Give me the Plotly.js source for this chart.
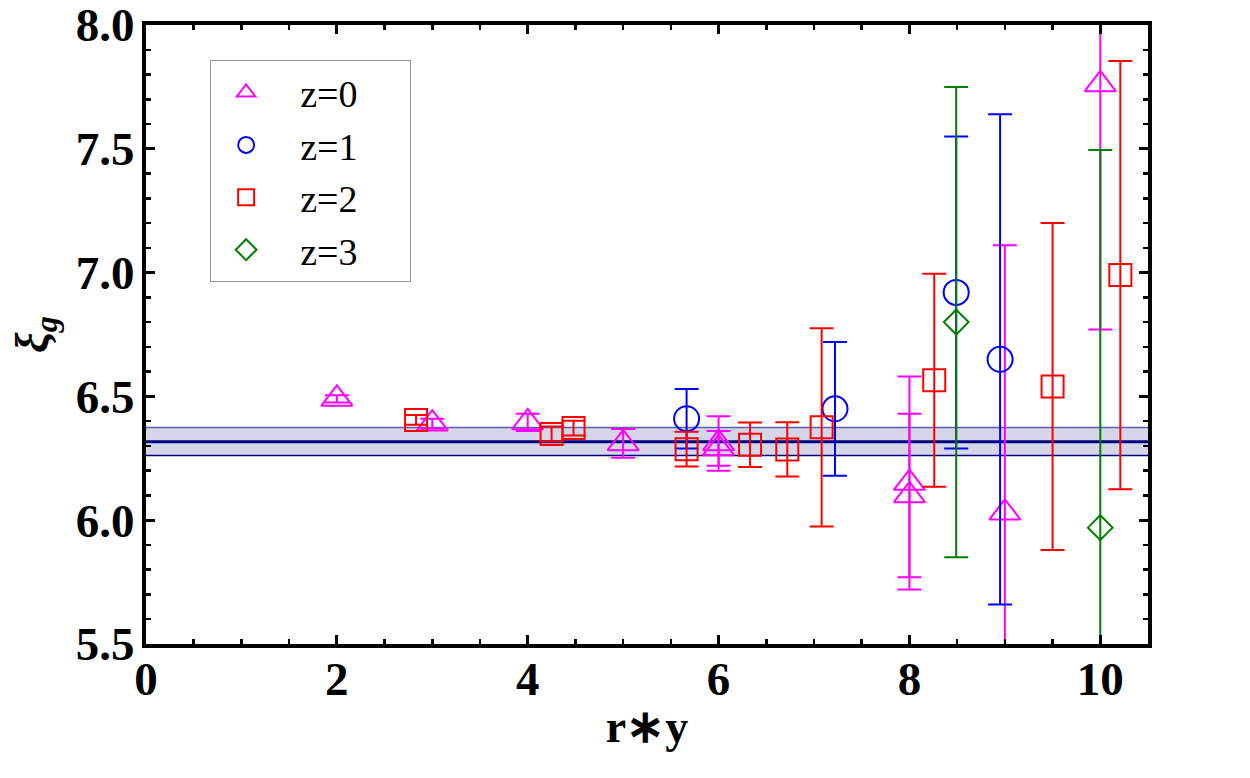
<!DOCTYPE html>
<html>
<head>
<meta charset="utf-8">
<script src="https://cdn.plot.ly/plotly-3.0.1.min.js"></script>
<style>
  html, body { margin: 0; padding: 0; background: #ffffff; }
  #chart { width: 1250px; height: 778px; }
</style>
</head>
<body>
<div id="chart"></div>
<script>
// z = 0 series
const z0X   = [2, 3, 4, 5, 6, 6, 8, 8, 9, 10];
const z0Y   = [6.49, 6.39, 6.395, 6.31, 6.31, 6.29, 6.15, 6.10, 6.03, 7.76];
const z0Err = [0.015, 0.02, 0.035, 0.058, 0.11, 0.07, 0.43, 0.33, 1.08, 0.99];

// z = 1 series
const z1X   = [5.665, 7.22, 8.49, 8.95];
const z1Y   = [6.41, 6.45, 6.92, 6.65];
const z1Err = [0.12, 0.27, 0.63, 0.99];

// z = 2 series
const z2X   = [2.83, 4.25, 4.48, 5.665, 6.33, 6.72, 7.08, 8.26, 9.50, 10.21];
const z2Y   = [6.405, 6.348, 6.372, 6.287, 6.305, 6.286, 6.375, 6.565, 6.54, 6.99];
const z2Err = [0.02, 0.03, 0.03, 0.07, 0.09, 0.11, 0.40, 0.43, 0.66, 0.865];

// z = 3 series
const z3X   = [8.49, 10];
const z3Y   = [6.80, 5.97];
const z3Err = [0.95, 1.525];

// fitted constant and its uncertainty band
const fitMid = 6.317;
const fitLo  = 6.261;
const fitHi  = 6.374;

const xRange = [0, 10.5];
const yRange = [5.5, 8.0];

const navy = '#000080';
const serif = '"Liberation Serif", "Times New Roman", serif';
// non-breaking spaces give the legend labels the wide layout of the key box
const padL = '\u00A0\u00A0';
const padR = '\u00A0\u00A0\u00A0\u00A0\u00A0';

function series(name, xs, ys, errs, color, symbol, size, group) {
  return {
    type: 'scatter', mode: 'markers', name: padL + name + padR,
    x: xs, y: ys, legendgroup: group,
    marker: { symbol: symbol, size: size, color: color, line: { color: color, width: 2 } },
    error_y: { type: 'data', array: errs, visible: true, color: color, thickness: 2, width: 12 },
    cliponaxis: true
  };
}

const traces = [
  // band
  { type: 'scatter', mode: 'lines', x: xRange, y: [fitLo, fitLo], showlegend: false, hoverinfo: 'skip',
    line: { color: navy, width: 1.5 } },
  { type: 'scatter', mode: 'lines', x: xRange, y: [fitHi, fitHi], showlegend: false, hoverinfo: 'skip',
    fill: 'tonexty', fillcolor: 'rgba(0,0,128,0.16)', line: { color: 'rgba(0,0,128,0.6)', width: 1.5 } },
  { type: 'scatter', mode: 'lines', x: xRange, y: [fitMid, fitMid], showlegend: false, hoverinfo: 'skip',
    line: { color: navy, width: 3 } },
  series('z=0', z0X, z0Y, z0Err, '#ff00ff', 'triangle-up-open', 27, 'g0'),
  series('z=1', z1X, z1Y, z1Err, '#0000ff', 'circle-open', 25, 'g1'),
  series('z=2', z2X, z2Y, z2Err, '#ff0000', 'square-open', 22, 'g2'),
  series('z=3', z3X, z3Y, z3Err, '#008000', 'diamond-open', 19, 'g3')
];

const axisCommon = {
  showline: true, linecolor: '#000', linewidth: 4, mirror: 'ticks',
  ticks: 'inside', ticklen: 9, tickwidth: 3, tickcolor: '#000',
  showgrid: false, zeroline: false,
  ticklabeloverflow: 'allow',
  tickfont: { family: serif, size: 47, color: '#000', weight: 'bold' }
};

const layout = {
  width: 1250, height: 778,
  margin: { l: 146, r: 102, t: 25, b: 134 },
  paper_bgcolor: '#fff', plot_bgcolor: '#fff',
  font: { family: serif, color: '#000' },
  showlegend: true,
  legend: {
    x: 0.064, y: 0.943, xanchor: 'left', yanchor: 'top',
    bgcolor: '#fff', bordercolor: '#999', borderwidth: 1,
    font: { family: serif, size: 38, color: '#000' },
    itemwidth: 60, traceorder: 'normal'
  },
  xaxis: Object.assign({}, axisCommon, {
    range: xRange, dtick: 2, tick0: 0,
    minor: { dtick: 0.5, ticks: 'inside', ticklen: 5, tickwidth: 2.5, tickcolor: '#000', showgrid: false },
    ticklabelstandoff: -9,
    title: { text: '<b>r∗y</b>', font: { family: serif, size: 46, color: '#000' }, standoff: 6 }
  }),
  yaxis: Object.assign({}, axisCommon, {
    range: yRange, dtick: 0.5, tick0: 5.5, tickformat: '.1f',
    minor: { dtick: 0.1, ticks: 'inside', ticklen: 5, tickwidth: 2.5, tickcolor: '#000', showgrid: false },
    ticklabelstandoff: -2,
    title: { text: '<b><i>ξ</i><sub><i>g</i></sub></b>', font: { family: serif, size: 46, color: '#000' }, standoff: 14 }
  })
};

Plotly.newPlot('chart', traces, layout, { displayModeBar: false, staticPlot: true });
</script>
</body>
</html>
